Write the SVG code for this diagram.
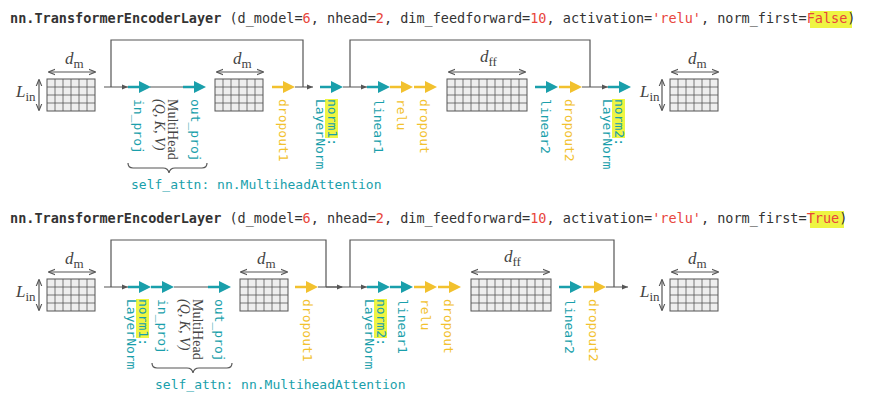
<svg xmlns="http://www.w3.org/2000/svg" width="875" height="404" viewBox="0 0 875 404">
<style>
.t{font-family:"DejaVu Sans Mono",monospace;font-size:13.5px;fill:#333}
.b{font-weight:bold}
.r{fill:#e8453c}
.m{font-family:"DejaVu Sans Mono",monospace;font-size:13px}
.tl{fill:#1a9fab}
.yl{fill:#f2c12e}
.s{font-family:"Liberation Serif",serif;fill:#444}
.ln{stroke:#555;stroke-width:1.2;fill:none}
.hl{fill:#eef542}
</style>
<defs>
<g id="ta"><line x1="0" y1="0" x2="13" y2="0" stroke="#1a9fab" stroke-width="2.5"/><polygon points="11,-6 23,0 11,6" fill="#1a9fab"/></g>
<g id="ya"><line x1="0" y1="0" x2="13" y2="0" stroke="#f2c12e" stroke-width="2.5"/><polygon points="11,-6 23,0 11,6" fill="#f2c12e"/></g>
<polygon id="ga" points="-6,-2.5 0,0 -6,2.5" fill="#555"/>
<marker id="ah" viewBox="0 0 10 10" refX="9" refY="5" markerWidth="6" markerHeight="6" orient="auto-start-reverse"><path d="M0,1 L10,5 L0,9" fill="none" stroke="#555" stroke-width="1.5"/></marker>
<g id="g6"><rect x="0" y="0" width="48" height="32" fill="#eee" stroke="#555"/><path d="M8,0V32M16,0V32M24,0V32M32,0V32M40,0V32M0,8H48M0,16H48M0,24H48" stroke="#555" stroke-width="0.8"/></g>
<g id="g10"><rect x="0" y="0" width="80" height="32" fill="#eee" stroke="#555"/><path d="M8,0V32M16,0V32M24,0V32M32,0V32M40,0V32M48,0V32M56,0V32M64,0V32M72,0V32M0,8H80M0,16H80M0,24H80" stroke="#555" stroke-width="0.8"/></g>
</defs>

<g id="title1"><rect class="hl" x="810" y="11" width="42" height="17"/><text class="t" x="10" y="23"><tspan class="b">nn.TransformerEncoderLayer</tspan> (d_model=<tspan class="r">6</tspan>, nhead=<tspan class="r">2</tspan>, dim_feedforward=<tspan class="r">10</tspan>, activation=<tspan class="r">'relu'</tspan>, norm_first=<tspan class="r">False</tspan>)</text></g>

<g id="title2"><rect class="hl" x="810" y="211" width="34" height="17"/><text class="t" x="10" y="223"><tspan class="b">nn.TransformerEncoderLayer</tspan> (d_model=<tspan class="r">6</tspan>, nhead=<tspan class="r">2</tspan>, dim_feedforward=<tspan class="r">10</tspan>, activation=<tspan class="r">'relu'</tspan>, norm_first=<tspan class="r">True</tspan>)</text></g>

<!-- ROW 1 -->
<g id="connectors1">
<path class="ln" d="M104,87H128M150,87H183M295,87H313M582,87H608"/>
<path class="ln" d="M111,87V40H303V87M350,87V40H590V87M343,87H367"/>
<use href="#ga" x="128" y="87"/><use href="#ga" x="313" y="87"/><use href="#ga" x="367" y="87"/><use href="#ga" x="608" y="87"/>
<use href="#ta" x="128" y="87"/><use href="#ta" x="183" y="87"/><use href="#ya" x="272" y="87"/><use href="#ta" x="320" y="87"/>
<use href="#ta" x="367" y="87"/><use href="#ya" x="390" y="87"/><use href="#ya" x="414" y="87"/>
<use href="#ta" x="535" y="87"/><use href="#ya" x="559" y="87"/><use href="#ta" x="608" y="87"/>
<line class="ln" x1="49" y1="72" x2="95" y2="72" marker-start="url(#ah)" marker-end="url(#ah)"/>
<line class="ln" x1="217" y1="72" x2="263" y2="72" marker-start="url(#ah)" marker-end="url(#ah)"/>
<line class="ln" x1="449" y1="72" x2="525" y2="72" marker-start="url(#ah)" marker-end="url(#ah)"/>
<line class="ln" x1="672" y1="72" x2="718" y2="72" marker-start="url(#ah)" marker-end="url(#ah)"/>
<line class="ln" x1="39" y1="80" x2="39" y2="110" marker-start="url(#ah)" marker-end="url(#ah)"/>
<line class="ln" x1="662" y1="80" x2="662" y2="110" marker-start="url(#ah)" marker-end="url(#ah)"/>
<path class="ln" d="M128,163q0,5 5,5h30q5,0 6,5q1,-5 6,-5h27q5,0 5,-5" stroke="#1a9fab"/>
</g>
<g id="grids1"><use href="#g6" x="47" y="79"/><use href="#g6" x="215" y="79"/><use href="#g10" x="447" y="79"/><use href="#g6" x="670" y="79"/></g>
<g id="dims1">
<text class="s" x="65" y="64" font-size="17" font-style="italic">d<tspan font-style="normal" font-size="13" dy="4">m</tspan></text>
<text class="s" x="233" y="64" font-size="17" font-style="italic">d<tspan font-style="normal" font-size="13" dy="4">m</tspan></text>
<text class="s" x="480" y="62" font-size="17" font-style="italic">d<tspan font-style="normal" font-size="13" dy="4">ff</tspan></text>
<text class="s" x="688" y="64" font-size="17" font-style="italic">d<tspan font-style="normal" font-size="13" dy="4">m</tspan></text>
<text class="s" x="16" y="97" font-size="17" font-style="italic">L<tspan font-style="normal" font-size="13" dy="4">in</tspan></text>
<text class="s" x="640" y="97" font-size="17" font-style="italic">L<tspan font-style="normal" font-size="13" dy="4">in</tspan></text>
</g>
<g id="labels1">
<text class="m tl" transform="translate(134,99) rotate(90)">in_proj</text>
<text class="s" font-size="14" transform="translate(168,99) rotate(90)">MultiHead<tspan x="0" dy="13" font-style="italic">(Q, K, V)</tspan></text>
<text class="m tl" transform="translate(191,99) rotate(90)">out_proj</text>
<text class="m yl" transform="translate(279,99) rotate(90)">dropout1</text>
<g transform="translate(328,99) rotate(90)"><rect class="hl" x="0" y="-10" width="39" height="13"/><text class="m tl">norm1:<tspan x="0" dy="12">LayerNorm</tspan></text></g>
<text class="m tl" transform="translate(374,99) rotate(90)">linear1</text>
<text class="m yl" transform="translate(397,99) rotate(90)">relu</text>
<text class="m yl" transform="translate(420,99) rotate(90)">dropout</text>
<text class="m tl" transform="translate(541,99) rotate(90)">linear2</text>
<text class="m yl" transform="translate(565,99) rotate(90)">dropout2</text>
<g transform="translate(615,99) rotate(90)"><rect class="hl" x="0" y="-10" width="39" height="13"/><text class="m tl">norm2:<tspan x="0" dy="12">LayerNorm</tspan></text></g>
<text class="m tl" x="131" y="189">self_attn: nn.MultiheadAttention</text>
</g>

<!-- ROW 2 -->
<g id="connectors2">
<path class="ln" d="M104,287H128M174,287H208M318,287H342"/>
<path class="ln" d="M111,287V240H326V287M350,287V240H614V287M326,287H367M606,287H628"/>
<use href="#ga" x="128" y="287"/><use href="#ga" x="343" y="287"/><use href="#ga" x="367" y="287"/><use href="#ga" x="628" y="287"/>
<use href="#ta" x="128" y="287"/><use href="#ta" x="151" y="287"/><use href="#ta" x="208" y="287"/><use href="#ya" x="295" y="287"/>
<use href="#ta" x="367" y="287"/><use href="#ta" x="390" y="287"/><use href="#ya" x="414" y="287"/><use href="#ya" x="438" y="287"/>
<use href="#ta" x="559" y="287"/><use href="#ya" x="583" y="287"/>
<line class="ln" x1="49" y1="272" x2="95" y2="272" marker-start="url(#ah)" marker-end="url(#ah)"/>
<line class="ln" x1="241" y1="272" x2="287" y2="272" marker-start="url(#ah)" marker-end="url(#ah)"/>
<line class="ln" x1="472" y1="272" x2="549" y2="272" marker-start="url(#ah)" marker-end="url(#ah)"/>
<line class="ln" x1="672" y1="272" x2="718" y2="272" marker-start="url(#ah)" marker-end="url(#ah)"/>
<line class="ln" x1="39" y1="280" x2="39" y2="310" marker-start="url(#ah)" marker-end="url(#ah)"/>
<line class="ln" x1="662" y1="280" x2="662" y2="310" marker-start="url(#ah)" marker-end="url(#ah)"/>
<path class="ln" d="M152,363q0,5 5,5h30q5,0 6,5q1,-5 6,-5h28q5,0 5,-5" stroke="#1a9fab"/>
</g>
<g id="grids2"><use href="#g6" x="47" y="279"/><use href="#g6" x="240" y="279"/><use href="#g10" x="471" y="279"/><use href="#g6" x="670" y="279"/></g>
<g id="dims2">
<text class="s" x="65" y="264" font-size="17" font-style="italic">d<tspan font-style="normal" font-size="13" dy="4">m</tspan></text>
<text class="s" x="257" y="264" font-size="17" font-style="italic">d<tspan font-style="normal" font-size="13" dy="4">m</tspan></text>
<text class="s" x="504" y="262" font-size="17" font-style="italic">d<tspan font-style="normal" font-size="13" dy="4">ff</tspan></text>
<text class="s" x="688" y="264" font-size="17" font-style="italic">d<tspan font-style="normal" font-size="13" dy="4">m</tspan></text>
<text class="s" x="16" y="297" font-size="17" font-style="italic">L<tspan font-style="normal" font-size="13" dy="4">in</tspan></text>
<text class="s" x="640" y="297" font-size="17" font-style="italic">L<tspan font-style="normal" font-size="13" dy="4">in</tspan></text>
</g>
<g id="labels2">
<g transform="translate(139,299) rotate(90)"><rect class="hl" x="0" y="-10" width="39" height="13"/><text class="m tl">norm1:<tspan x="0" dy="12">LayerNorm</tspan></text></g>
<text class="m tl" transform="translate(158,299) rotate(90)">in_proj</text>
<text class="s" font-size="14" transform="translate(193,299) rotate(90)">MultiHead<tspan x="0" dy="13" font-style="italic">(Q, K, V)</tspan></text>
<text class="m tl" transform="translate(215,299) rotate(90)">out_proj</text>
<text class="m yl" transform="translate(303,299) rotate(90)">dropout1</text>
<g transform="translate(377,299) rotate(90)"><rect class="hl" x="0" y="-10" width="39" height="13"/><text class="m tl">norm2:<tspan x="0" dy="12">LayerNorm</tspan></text></g>
<text class="m tl" transform="translate(398,299) rotate(90)">linear1</text>
<text class="m yl" transform="translate(421,299) rotate(90)">relu</text>
<text class="m yl" transform="translate(444,299) rotate(90)">dropout</text>
<text class="m tl" transform="translate(565,299) rotate(90)">linear2</text>
<text class="m yl" transform="translate(589,299) rotate(90)">dropout2</text>
<text class="m tl" x="155" y="389">self_attn: nn.MultiheadAttention</text>
</g>
</svg>
